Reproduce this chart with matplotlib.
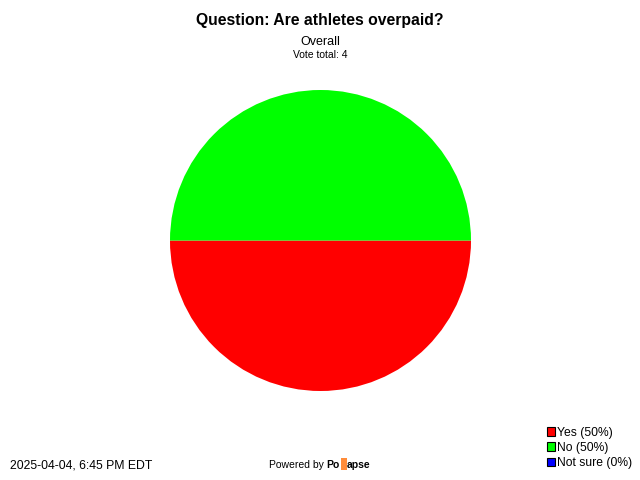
import matplotlib
matplotlib.use("Agg")
from matplotlib import pyplot as plt
from matplotlib.patches import Rectangle

plt.rcParams['font.family'] = ['Liberation Sans', 'DejaVu Sans']

title = "Question: Are athletes overpaid?"
subtitle = "Overall"
vote_total = 4
answers = ["Yes", "No", "Not sure"]
percents = [50, 50, 0]
colors = ["#ff0000", "#00ff00", "#0000ff"]
timestamp = "2025-04-04, 6:45 PM EDT"

fig = plt.figure(figsize=(6.4, 4.8), dpi=100)
W, H = 640, 480

ax = fig.add_axes([170 / W, 1 - 391 / H, 301 / W, 301 / H])
ax.pie(percents, colors=colors, startangle=180, counterclock=True,
       wedgeprops={'linewidth': 0})
ax.set_xlim(-1, 1)
ax.set_ylim(-1, 1)
ax.set_aspect('equal')
ax.axis('off')

fig.text(0.5, 1 - 20 / H, title, ha='center', va='center', fontsize=11.3, fontweight='bold')
fig.text(0.5, 1 - 42 / H, subtitle, ha='center', va='center', fontsize=9)
fig.text(0.5, 1 - 55 / H, "Vote total: %d" % vote_total, ha='center', va='center', fontsize=7.5)

#legend
handles = [Rectangle((0, 0), 1, 1, facecolor=c, edgecolor='black', linewidth=0.8) for c in colors]
labels = ["%s (%d%%)" % (a, p) for a, p in zip(answers, percents)]
fig.legend(handles, labels, loc='lower right', bbox_to_anchor=(1 - 2 / W, 5 / H),
           frameon=False, fontsize=8.7, handlelength=0.7, handleheight=0.7,
           handletextpad=0.15, labelspacing=0.25, borderpad=0)

fig.text(10 / W, 1 - 466 / H, timestamp, ha='left', va='center', fontsize=8.8)

#footer logo
fig.text(269 / W, 1 - 465 / H, "Powered by ", ha='left', va='center', fontsize=7.5)
fig.text(326 / W, 1 - 465 / H, "Po", ha='left', va='center', fontsize=7.5, fontweight='bold')
fig.patches.append(Rectangle((341 / W, 1 - 470 / H), 6 / W, 12 / H, transform=fig.transFigure,
                             facecolor='#ff8c3a', edgecolor='none', figure=fig))
fig.text(347 / W, 1 - 465 / H, "apse", ha='left', va='center', fontsize=7.5, fontweight='bold')

fig.savefig("out.png", dpi=100)
